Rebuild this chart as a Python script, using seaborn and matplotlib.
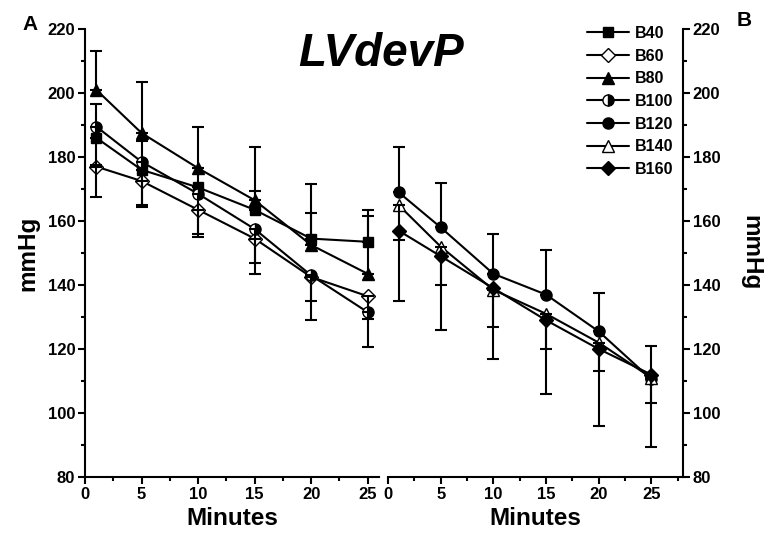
import matplotlib
matplotlib.use('Agg')
import matplotlib.pyplot as plt
import seaborn as sns
from matplotlib.ticker import MultipleLocator

# ---------------- data ----------------
minutes = [1, 5, 10, 15, 20, 25]

# panel A
b40 = [186, 176, 170.5, 163.5, 154.5, 153.5]
b60 = [177, 172.5, 163.5, 154.5, 142.5, 136.5]
b80 = [201, 187.5, 176.5, 166.5, 152.5, 143.5]
b100 = [189.5, 178.5, 168.5, 157.5, 143, 131.5]
b40_err = [10.5, 9, 6, 6, 8, 8]        # drawn upward
b60_err = [9.5, 7.5, 7.5, 7.5, 7.5, 7]  # drawn downward
b80_err = [12, 16, 13, 16.5, 19, 20]   # drawn upward
b100_err = [12, 14, 13.5, 14, 14, 11]  # drawn downward

# panel B
b120 = [169, 158, 143.5, 137, 125.5, 110.5]
b140 = [165, 152, 138.5, 131, 122, 111]
b160 = [157, 149, 139, 129, 120, 112]
b120_err = [14, 14, 12.5, 14, 12, 10.5]  # upward
b140_err = [30, 26, 21.5, 25, 26, 21.5]  # downward
b160_err = [3, 9, 12, 9, 7, 9]           # downward

sns.set_style('ticks')
plt.rcParams['font.family'] = ['Liberation Sans', 'DejaVu Sans']
plt.rcParams['font.weight'] = 'bold'
plt.rcParams['text.color'] = 'black'
plt.rcParams['axes.labelcolor'] = 'black'
plt.rcParams['xtick.color'] = 'black'
plt.rcParams['ytick.color'] = 'black'

fig = plt.figure(figsize=(7.68, 5.35), dpi=100)
ax_a = fig.add_axes([85 / 768, 58 / 535, 294 / 768, 448 / 535])
ax_b = fig.add_axes([388 / 768, 58 / 535, 295 / 768, 448 / 535])

mk = dict(color='black', linewidth=1.5, markersize=8, markeredgecolor='black',
          markeredgewidth=1.0)

# (values, label, marker style, error, direction)
series_a = [
    (b40, 'B40', dict(marker='s', markerfacecolor='black', markersize=7), b40_err, 1),
    (b60, 'B60', dict(marker='D', markerfacecolor='white', markersize=7), b60_err, -1),
    (b80, 'B80', dict(marker='^', markerfacecolor='black', markersize=8.5), b80_err, 1),
    (b100, 'B100', dict(marker='o', markerfacecolor='black', fillstyle='right',
                        markerfacecoloralt='white'), b100_err, -1),
]
series_b = [
    (b120, 'B120', dict(marker='o', markerfacecolor='black'), b120_err, 1),
    (b140, 'B140', dict(marker='^', markerfacecolor='white', markersize=9), b140_err, -1),
    (b160, 'B160', dict(marker='D', markerfacecolor='black', markersize=7), b160_err, -1),
]

for ax, series in [(ax_a, series_a), (ax_b, series_b)]:
    for vals, label, style, err, sign in series:
        kw = dict(mk)
        kw.update(style)
        sns.lineplot(x=minutes, y=vals, ax=ax, label=label, zorder=2, **kw)
        if sign > 0:
            yerr = [[0] * len(err), err]
        else:
            yerr = [err, [0] * len(err)]
        ax.errorbar(minutes, vals, yerr=yerr, fmt='none', ecolor='black',
                    elinewidth=1.5, capsize=4, capthick=1.5, zorder=3)
    ax.get_legend().remove()
    ax.set_ylim(80, 220)
    ax.yaxis.set_major_locator(MultipleLocator(20))
    ax.yaxis.set_minor_locator(MultipleLocator(10))
    ax.xaxis.set_major_locator(MultipleLocator(5))
    ax.xaxis.set_minor_locator(MultipleLocator(2.5))
    ax.tick_params(which='major', length=5, width=1.5, labelsize=12, pad=2, color='black')
    ax.tick_params(which='minor', length=3, width=1.5, color='black')
    for side in ax.spines:
        ax.spines[side].set_linewidth(1.5)
        ax.spines[side].set_color('black')
    ax.set_xlabel('Minutes', fontsize=17.5, fontweight='bold', labelpad=4)
    for lab in ax.get_xticklabels() + ax.get_yticklabels():
        lab.set_fontweight('bold')

ax_a.set_xlim(0, 26)
ax_a.spines['top'].set_visible(False)
ax_a.spines['right'].set_visible(False)
ax_a.set_ylabel('mmHg', fontsize=17.5, fontweight='bold', labelpad=6)

ax_b.set_xlim(0, 28)
ax_b.spines['top'].set_visible(False)
ax_b.spines['left'].set_visible(False)
ax_b.yaxis.tick_right()
ax_b.yaxis.set_label_position('right')
ax_b.set_ylabel('mmHg', fontsize=17.5, fontweight='bold', rotation=-90, labelpad=30)
ax_b.set_xticks([0, 5, 10, 15, 20, 25])

handles, labels = [], []
for ax in (ax_a, ax_b):
    h, l = ax.get_legend_handles_labels()
    handles += h
    labels += l
fig.legend(handles, labels, loc='upper left', bbox_to_anchor=(587 / 768, 1 - 26 / 535),
           frameon=False, fontsize=11.5, handlelength=2.6, handletextpad=0.4,
           labelspacing=0.48, borderaxespad=0, borderpad=0)

fig.text(381 / 768, 1 - 54 / 535, 'LVdevP', fontsize=33, fontweight='bold',
         fontstyle='italic', ha='center', va='center')
fig.text(22 / 768, 1 - 24 / 535, 'A', fontsize=15, fontweight='bold', ha='left', va='center')
fig.text(737 / 768, 1 - 20 / 535, 'B', fontsize=15, fontweight='bold', ha='left', va='center')

fig.savefig('out.png', dpi=100)
